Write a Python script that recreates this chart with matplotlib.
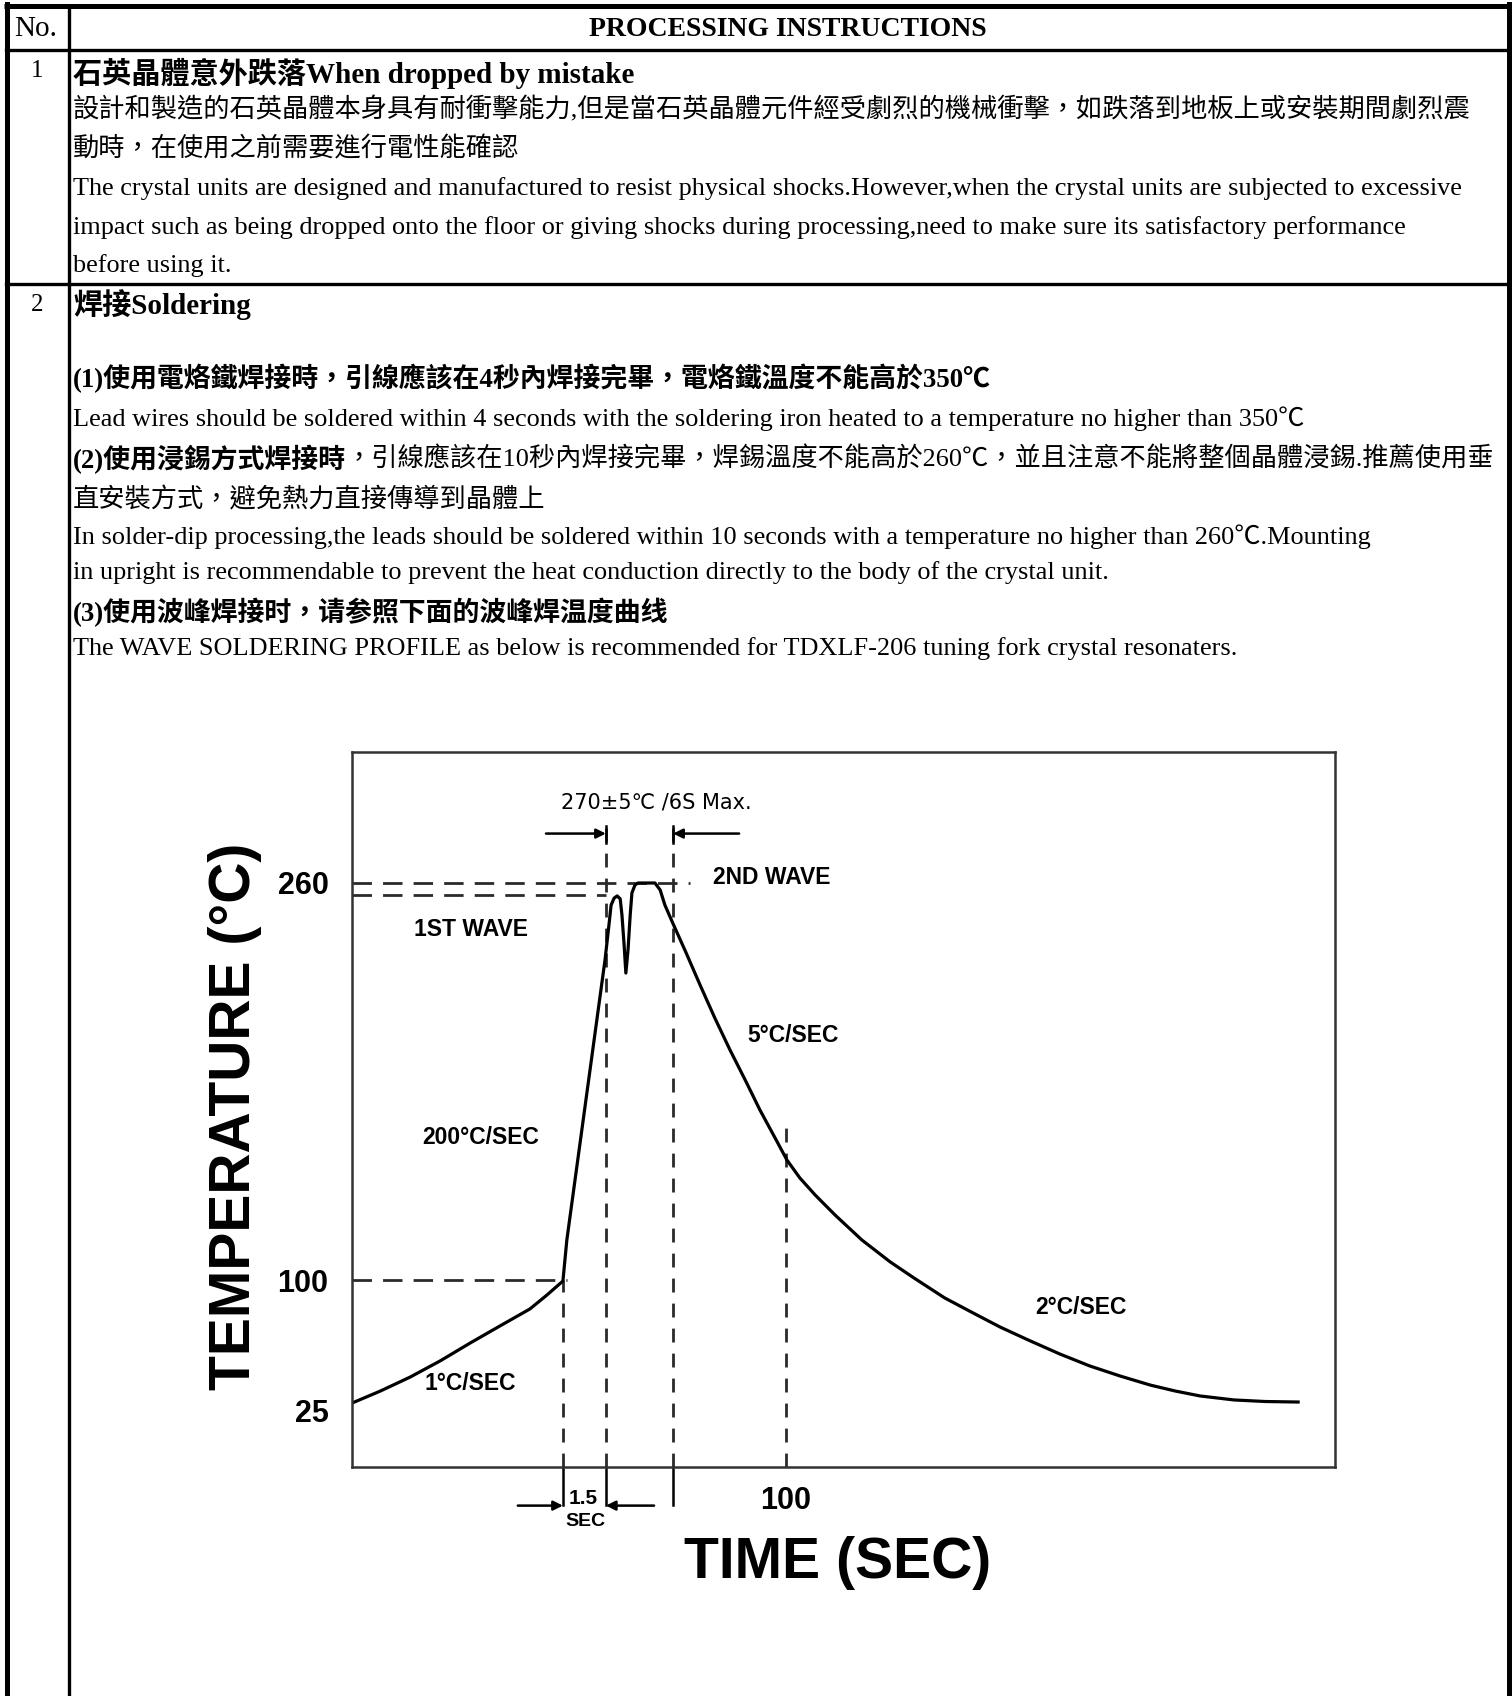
import numpy as np
import matplotlib.pyplot as plt

W, H = 1512, 1696

# ---- table text ----
header_no = "No."
header_title = "PROCESSING INSTRUCTIONS"
row_numbers = ["1", "2"]

row1_title = "石英晶體意外跌落When dropped by mistake"
row1_lines = [
    "設計和製造的石英晶體本身具有耐衝擊能力,但是當石英晶體元件經受劇烈的機械衝擊，如跌落到地板上或安裝期間劇烈震",
    "動時，在使用之前需要進行電性能確認",
    "The crystal units are designed and manufactured to resist physical shocks.However,when the crystal units are subjected to excessive",
    "impact such as being dropped onto the floor or giving shocks during processing,need to make sure its satisfactory performance",
    "before using it.",
]

row2_title = "焊接Soldering"
# (bold part, regular part)
row2_lines = [
    ("(1)使用電烙鐵焊接時，引線應該在4秒內焊接完畢，電烙鐵溫度不能高於350℃", ""),
    ("", "Lead wires should be soldered within 4 seconds with the soldering iron heated to a temperature no higher than 350℃"),
    ("(2)使用浸錫方式焊接時", "，引線應該在10秒內焊接完畢，焊錫溫度不能高於260℃，並且注意不能將整個晶體浸錫.推薦使用垂"),
    ("", "直安裝方式，避免熱力直接傳導到晶體上"),
    ("", "In solder-dip processing,the leads should be soldered within 10 seconds with a temperature no higher than 260℃.Mounting"),
    ("", "in upright is recommendable to prevent the heat conduction directly to the body of the crystal unit."),
    ("(3)使用波峰焊接时，请参照下面的波峰焊温度曲线", ""),
    ("", "The WAVE SOLDERING PROFILE as below is recommended for TDXLF-206 tuning fork crystal resonaters."),
]

# ---- wave soldering profile (time in sec, temperature in degC) ----
time_s = [0, 6.5, 13.4, 20.3, 27.2, 34.1, 41.0, 44.9, 48.6,
          49.5, 58.3, 59.2, 59.7, 60.4, 61.1, 61.8, 62.2, 62.7, 63.1, 63.6,
          64.1, 64.5, 65.2, 65.9, 69.8, 71.0, 72.1,
          74.0, 77.0, 80.2, 83.6, 87.1, 90.6, 94.0, 97.5, 100.2, 103.2, 106.7,
          111.3, 117.5, 124.0, 129.5, 136.6, 143.1, 149.3, 155.8, 163.1, 170.0,
          177.0, 183.9, 189.6, 195.4, 203.2, 210.4, 218.0]
temp_c = [29.0, 35.9, 44.0, 53.3, 63.6, 73.5, 83.3, 91.3, 99.4,
          116.1, 229, 243, 251.1, 253.9, 254.8, 253.6, 247.1, 235, 223.7, 233,
          247.1, 256, 259.2, 260, 260, 257.2, 251.1,
          243.5, 231.8, 218.9, 205.6, 192.7, 180.6, 168.5, 157.2, 148.4, 141.1, 134.3,
          126.2, 116.1, 107.3, 100.8, 89.6, 81.0, 72.9, 65.4, 57.3, 50.4,
          44.6, 39.4, 36.0, 33.1, 30.8, 29.9, 29.6]

y_ticks = [25, 100, 260]
x_ticks = [100]
knee_t, wave1_t, wave2_t = 48.6, 58.5, 74.0
peak1_temp, peak2_temp = 255, 260
window_temp = 280

# schematic (non-linear) temperature axis of the original drawing
scale_temp = [-1000, -6, 25, 100, 260, 313, 2000]
scale_pos = [-1723, 0, 57, 187, 584, 715, 4882]


def fwd(t):
    return np.interp(t, scale_temp, scale_pos)


def inv(p):
    return np.interp(p, scale_pos, scale_temp)


serif = ['Liberation Serif', 'Noto Sans CJK TC']
sans = ['Liberation Sans', 'DejaVu Sans', 'Noto Sans CJK TC']

fig = plt.figure(figsize=(W / 100, H / 100), dpi=100)
fig.patch.set_facecolor('white')

page = fig.add_axes([0, 0, 1, 1])
page.set_xlim(0, W)
page.set_ylim(H, 0)
page.axis('off')

# table frame
thick, thin = 3.6, 2.4
page.plot([4, 1511], [6, 6], color='black', lw=thick, solid_capstyle='butt')
page.plot([6.5, 6.5], [4, H], color='black', lw=thick)
page.plot([1508.5, 1508.5], [4, H], color='black', lw=thick)
page.plot([68.5, 68.5], [6, H], color='black', lw=thin)
page.plot([6, 1509], [50, 50], color='black', lw=thin)
page.plot([6, 1509], [283.5, 283.5], color='black', lw=thin)

page.text(36, 29, header_no, fontsize=21, family=serif, ha='center', va='center')
page.text(788, 29, header_title, fontsize=20, family=serif, weight='bold',
          ha='center', va='center')
page.text(37, 71, row_numbers[0], fontsize=18, family=serif, ha='center', va='center')
page.text(37, 305, row_numbers[1], fontsize=18, family=serif, ha='center', va='center')

x0 = 73
body = 18.9
body_bold = 19.4
page.text(x0, 73, row1_title, fontsize=21, family=serif, weight='bold', va='center')
for y, line in zip([109, 149, 189, 228, 266], row1_lines):
    page.text(x0, y, line, fontsize=body, family=serif, weight='light', va='center')

page.text(x0, 305, row2_title, fontsize=21, family=serif, weight='bold', va='center')
pending = []
for y, (b, r) in zip([378, 419, 459, 500, 537, 573, 612, 649], row2_lines):
    if b:
        tb = page.text(x0, y, b, fontsize=body_bold, family=serif, weight='bold', va='center')
        if r:
            pending.append((tb, y, r))
    elif r:
        page.text(x0, y, r, fontsize=body, family=serif, weight='light', va='center')

fig.canvas.draw()
renderer = fig.canvas.get_renderer()
for tb, y, r in pending:
    bb = tb.get_window_extent(renderer)
    xr = page.transData.inverted().transform((bb.x1, bb.y0))[0]
    page.text(xr, y, r, fontsize=body, family=serif, weight='light', va='center')

# ---- chart ----
left, right, top, bottom = 352, 1335, 752, 1467
ax = fig.add_axes([left / W, 1 - bottom / H, (right - left) / W, (bottom - top) / H])
ax.set_facecolor('none')
ax.set_yscale('function', functions=(fwd, inv))
ax.set_xlim(0, (right - left) / 4.34)
ax.set_ylim(-6, 313)
for s in ax.spines.values():
    s.set_linewidth(1.8)
    s.set_color('#333333')

ax.set_yticks(y_ticks)
ax.set_yticklabels([str(v) for v in y_ticks])
ax.set_xticks(x_ticks)
ax.set_xticklabels([str(v) for v in x_ticks])
ax.tick_params(axis='y', length=0, pad=17, labelsize=22)
ax.tick_params(axis='x', length=0, pad=14, labelsize=22)
for lab in ax.get_yticklabels() + ax.get_xticklabels():
    lab.set_fontfamily(sans)
    lab.set_fontweight('bold')

dash_col = '#2a2a2a'
hd = dict(color=dash_col, lw=2.0, dashes=(7, 4))
vd = dict(color=dash_col, lw=2.0, dashes=(5, 4))
ax.plot([0, 77.9], [peak2_temp, peak2_temp], **hd)
ax.plot([0, wave1_t], [peak1_temp, peak1_temp], **hd)
ax.plot([0, knee_t + 0.9], [100, 100], **hd)
ax.plot([wave1_t, wave1_t], [-6, 283], **vd)
ax.plot([wave2_t, wave2_t], [-6, 283], **vd)
ax.plot([knee_t, knee_t], [-6, 100], **vd)
ax.plot([100, 100], [-6, 163.7], **vd)

# profile curve
ax.plot(time_s, temp_c, color='black', lw=2.3, solid_joinstyle='round')

# 6 s window arrows
for t in (wave1_t, wave2_t):
    ax.plot([t, t], [276, 283], color='black', lw=1.8)
arr = dict(arrowstyle='-|>', color='black', lw=1.8, mutation_scale=14, shrinkA=0, shrinkB=0)
ax.annotate('', xy=(wave1_t, window_temp), xytext=(44.7, window_temp), arrowprops=arr)
ax.annotate('', xy=(wave2_t, window_temp), xytext=(89.2, window_temp), arrowprops=arr)

# 1.5 sec arrows below the axis
xt = ax.get_xaxis_transform()
for t in (knee_t, wave1_t, wave2_t):
    ax.plot([t, t], [0, -0.053], color='black', lw=1.8, transform=xt, clip_on=False)
ax.annotate('', xy=(knee_t, -0.054), xytext=(38.2, -0.054), xycoords=xt, textcoords=xt,
            arrowprops=arr, annotation_clip=False)
ax.annotate('', xy=(wave1_t, -0.054), xytext=(69.6, -0.054), xycoords=xt, textcoords=xt,
            arrowprops=arr, annotation_clip=False)

# chart labels (page pixel coordinates)
lab = dict(family=sans, weight='bold', fontsize=16.5, ha='center', va='center')
page.text(471, 930, "1ST WAVE", **lab)
page.text(481, 1137, "200°C/SEC", **lab)
page.text(772, 877, "2ND WAVE", **lab)
page.text(793, 1035, "5°C/SEC", **lab)
page.text(470, 1383, "1°C/SEC", **lab)
page.text(1081, 1308, "2°C/SEC", **lab)
page.text(583, 1499, "1.5", family=sans, weight='bold', fontsize=15, ha='center', va='center')
page.text(585, 1522, "SEC", family=sans, weight='bold', fontsize=14, ha='center', va='center')
page.text(656, 802, "270±5℃ /6S Max.", family=['DejaVu Sans', 'Noto Sans CJK TC'],
          fontsize=15, ha='center', va='center')

page.text(235, 1116, "TEMPERATURE (°C)", family=sans, weight='bold', fontsize=41,
          rotation=90, ha='center', va='center')
page.text(838, 1563, "TIME (SEC)", family=sans, weight='bold', fontsize=41,
          ha='center', va='center')

fig.savefig('out.png', dpi=100, facecolor='white')
